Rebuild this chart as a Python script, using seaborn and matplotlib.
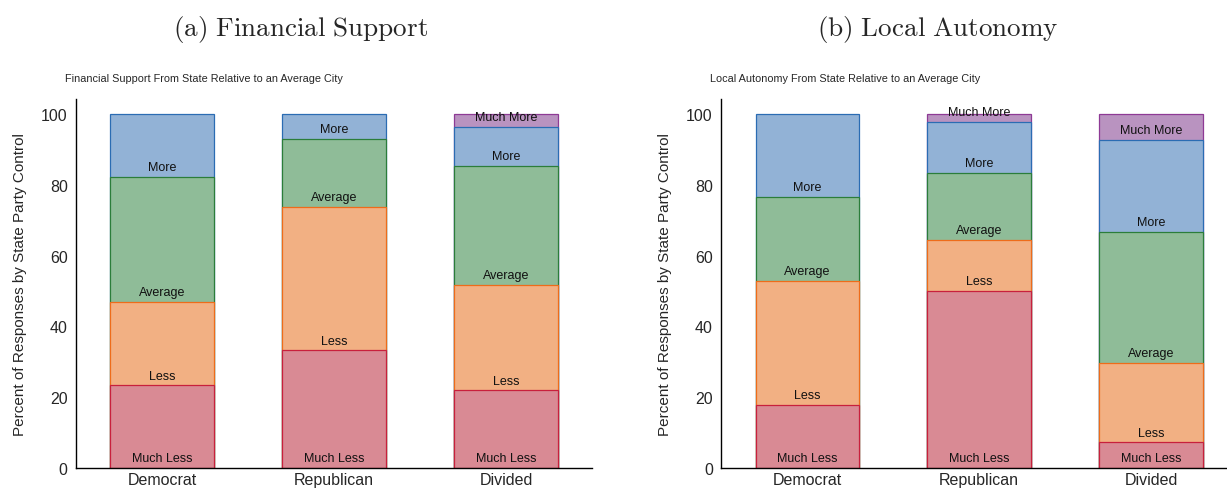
import numpy as np
import pandas as pd
import seaborn as sns
import matplotlib.pyplot as plt

parties = ["Democrat", "Republican", "Divided"]
levels = ["Much Less", "Less", "Average", "More", "Much More"]

# percent of responses (order follows `levels`)
financial = {
    "Democrat":   [23.4, 23.5, 35.3, 17.8, 0.0],
    "Republican": [33.3, 40.4, 19.2, 7.1, 0.0],
    "Divided":    [22.0, 29.7, 33.6, 11.0, 3.7],
}
autonomy = {
    "Democrat":   [17.8, 35.0, 23.8, 23.4, 0.0],
    "Republican": [50.0, 14.4, 18.9, 14.4, 2.3],
    "Divided":    [7.3, 22.4, 37.0, 26.0, 7.3],
}

fills = ["#d98a94", "#f2b083", "#8fbc98", "#92b2d6", "#b993c0"]
edges = ["#c8203c", "#ee6c1a", "#2b7d3a", "#2b6cb3", "#8e3a95"]

sns.set_style("white")
plt.rcParams["font.family"] = ["Liberation Sans", "DejaVu Sans"]
plt.rcParams["mathtext.fontset"] = "cm"

fig = plt.figure(figsize=(12.27, 4.89), dpi=100)
ax1 = fig.add_axes([0.0620, 0.0409, 0.4205, 0.7546])
ax2 = fig.add_axes([0.5877, 0.0409, 0.4205, 0.7546])


def stacked(ax, data, subtitle):
    df = pd.DataFrame(data, index=levels).T.loc[parties]
    cum = df.cumsum(axis=1)
    # tallest first so lower segments paint over it
    for k in range(len(levels) - 1, -1, -1):
        lev = levels[k]
        part = pd.DataFrame({"party": parties, "top": cum[lev].values})
        part = part[df[lev].values > 0]
        sns.barplot(data=part, x="party", y="top", order=parties, ax=ax,
                    color=fills[k], edgecolor=edges[k], linewidth=0.9,
                    width=0.6, saturation=1)
    for i, p in enumerate(parties):
        bottom = 0
        for k, lev in enumerate(levels):
            v = df.loc[p, lev]
            if v > 0:
                ax.text(i, bottom + 1.0, lev, ha="center", va="bottom",
                        fontsize=9, color="#111111")
            bottom += v
    ax.set_xlim(-0.5, 2.5)
    ax.set_ylim(0, 104.2)
    ax.set_yticks([0, 20, 40, 60, 80, 100])
    ax.tick_params(axis="both", labelsize=11.5, length=0, pad=6)
    ax.tick_params(axis="x", pad=3)
    ax.set_xlabel("")
    ax.set_ylabel("Percent of Responses by State Party Control", fontsize=11,
                  labelpad=10)
    for s in ["top", "right"]:
        ax.spines[s].set_visible(False)
    for s in ["left", "bottom"]:
        ax.spines[s].set_color("black")
        ax.spines[s].set_linewidth(1.0)
    pos = ax.get_position()
    fig.text(pos.x0 - 0.009, 0.828, subtitle, fontsize=7.8, ha="left", va="bottom")


stacked(ax1, financial, "Financial Support From State Relative to an Average City")
stacked(ax2, autonomy, "Local Autonomy From State Relative to an Average City")

fig.text(0.245, 0.94, r"$\mathrm{(a)\ Financial\ Support}$", fontsize=19.5,
         ha="center", va="center")
fig.text(0.764, 0.94, r"$\mathrm{(b)\ Local\ Autonomy}$", fontsize=19.5,
         ha="center", va="center")

fig.savefig("out.png", dpi=100)
